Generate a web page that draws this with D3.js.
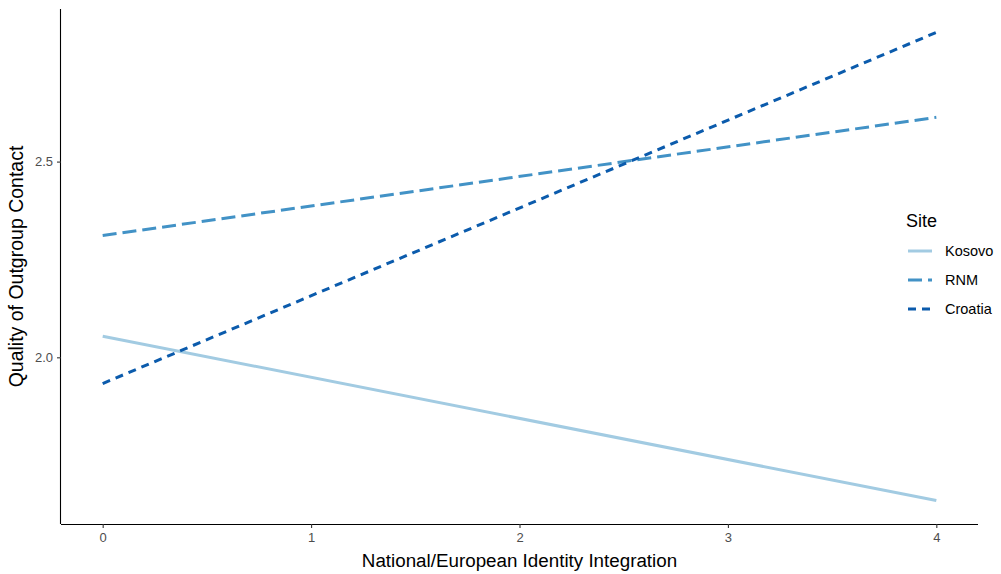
<!DOCTYPE html>
<html>
<head>
<meta charset="utf-8">
<script src="https://cdn.jsdelivr.net/npm/d3@7"></script>
<style>
  html, body { margin: 0; padding: 0; background: #fff; }
  svg text { font-family: "Liberation Sans", Arial, sans-serif; }
</style>
</head>
<body>
<svg id="chart" width="1001" height="574"></svg>
<script>
// Predicted contact quality by identity integration, one line per site
const sites = ["Kosovo", "RNM", "Croatia"];
const integration = [0, 4];
const kosovo = [2.054, 1.634];
const rnm = [2.311, 2.613];
const croatia = [1.933, 2.830];
const xTicks = [0, 1, 2, 3, 4];
const yTicks = [2.0, 2.5];

const colors = { Kosovo: "#A2CBE2", RNM: "#4292C6", Croatia: "#0B5BAC" };
const dashes = { Kosovo: null, RNM: "14,6", Croatia: "8,6" };

const series = [
  { name: "Kosovo", values: kosovo },
  { name: "RNM", values: rnm },
  { name: "Croatia", values: croatia }
];

const svg = d3.select("#chart");
const panel = { left: 61, right: 978, top: 9, bottom: 524 };

// 5% padding around the data range on both axes
const xr = d3.extent(integration);
const xPad = (xr[1] - xr[0]) * 0.05;
const allY = kosovo.concat(rnm, croatia);
const yr = d3.extent(allY);
const yPad = (yr[1] - yr[0]) * 0.05;

const x = d3.scaleLinear().domain([xr[0] - xPad, xr[1] + xPad]).range([panel.left, panel.right]);
const y = d3.scaleLinear().domain([yr[0] - yPad, yr[1] + yPad]).range([panel.bottom, panel.top]);

// axes
const xAxis = svg.append("g")
  .attr("transform", `translate(0,${panel.bottom})`)
  .call(d3.axisBottom(x).tickValues(xTicks).tickFormat(d3.format("d")).tickSize(4).tickPadding(5));
const yAxis = svg.append("g")
  .attr("transform", `translate(${panel.left},0)`)
  .call(d3.axisLeft(y).tickValues(yTicks).tickFormat(d3.format(".1f")).tickSize(4).tickPadding(4));

[xAxis, yAxis].forEach(g => {
  g.select(".domain").attr("stroke", "#000").attr("stroke-width", 1.1);
  g.selectAll(".tick line").attr("stroke", "#333").attr("stroke-width", 1.1);
  g.selectAll(".tick text").attr("fill", "#4D4D4D").style("font-size", "13px");
});
xAxis.select(".domain").attr("d", `M${panel.left},0.5H${panel.right}`);
yAxis.select(".domain").attr("d", `M-0.5,${panel.top}V${panel.bottom}`);

// lines
const line = d3.line()
  .x((d, i) => x(integration[i]))
  .y(d => y(d));

svg.append("g").selectAll("path")
  .data(series)
  .join("path")
  .attr("d", d => line(d.values))
  .attr("fill", "none")
  .attr("stroke", d => colors[d.name])
  .attr("stroke-width", 3)
  .attr("stroke-dasharray", d => dashes[d.name]);

// axis titles
svg.append("text")
  .attr("x", (panel.left + panel.right) / 2)
  .attr("y", 567)
  .attr("text-anchor", "middle")
  .style("font-size", "18.8px")
  .attr("fill", "#000")
  .text("National/European Identity Integration");

svg.append("text")
  .attr("transform", `translate(23,${(panel.top + panel.bottom) / 2}) rotate(-90)`)
  .attr("text-anchor", "middle")
  .style("font-size", "19.5px")
  .attr("fill", "#000")
  .text("Quality of Outgroup Contact");

// legend
const legend = svg.append("g").attr("transform", "translate(906,0)");
legend.append("text")
  .attr("x", 0).attr("y", 227)
  .style("font-size", "18px")
  .attr("fill", "#000")
  .text("Site");

const keyY = [251, 280, 309];
sites.forEach((s, i) => {
  const g = legend.append("g").attr("transform", `translate(0,${keyY[i]})`);
  g.append("line")
    .attr("x1", 2).attr("x2", 26)
    .attr("y1", 0).attr("y2", 0)
    .attr("stroke", colors[s])
    .attr("stroke-width", 3)
    .attr("stroke-dasharray", dashes[s]);
  g.append("text")
    .attr("x", 39).attr("y", 5)
    .style("font-size", "14.5px")
    .attr("fill", "#000")
    .text(s);
});
</script>
</body>
</html>
